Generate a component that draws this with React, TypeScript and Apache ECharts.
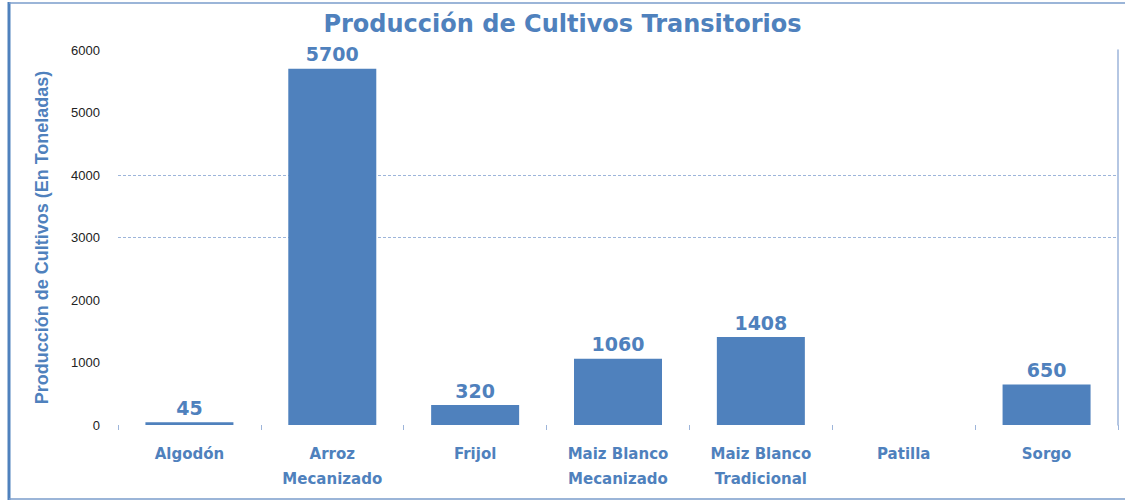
import React, { useEffect, useRef } from "react";
import * as echarts from "echarts";

const categories = [
  "Algodón",
  "Arroz\nMecanizado",
  "Frijol",
  "Maiz Blanco\nMecanizado",
  "Maiz Blanco\nTradicional",
  "Patilla",
  "Sorgo",
];
const production: (number | null)[] = [45, 5700, 320, 1060, 1408, null, 650];
const yMin = 0;
const yMax = 6000;
const yInterval = 1000;
const titleText = "Producción de Cultivos Transitorios";
const yAxisName = "Producción de Cultivos (En Toneladas)";

const BLUE = "#4F81BD";
const LIGHT = "#9DB5DA";

export default function App() {
  const ref = useRef<HTMLDivElement>(null);
  useEffect(() => {
    document.body.style.margin = "0";
    const chart = echarts.init(ref.current!, null, { renderer: "svg" });
    chart.setOption({
      animation: false,
      backgroundColor: "#ffffff",
      title: {
        text: titleText,
        left: "center",
        top: 7,
        textStyle: {
          color: BLUE,
          fontFamily: "DejaVu Sans",
          fontWeight: "bold",
          fontSize: 24,
        },
      },
      grid: { left: 118, right: 7, top: 50, bottom: 77 },
      xAxis: {
        type: "category",
        data: categories,
        axisLine: { show: false },
        axisTick: { show: true, length: 5, lineStyle: { color: LIGHT } },
        axisLabel: {
          interval: 0,
          margin: 16,
          color: BLUE,
          fontFamily: "DejaVu Sans",
          fontWeight: "bold",
          fontSize: 15,
          lineHeight: 25,
        },
      },
      yAxis: [
        {
          type: "value",
          min: yMin,
          max: yMax,
          interval: yInterval,
          name: yAxisName,
          nameLocation: "middle",
          nameGap: 67,
          nameTextStyle: {
            color: BLUE,
            fontFamily: "Liberation Sans",
            fontWeight: "bold",
            fontSize: 18,
          },
          axisLine: { show: false },
          axisTick: { show: false },
          axisLabel: {
            margin: 18,
            color: "#222",
            fontFamily: "Liberation Sans",
            fontSize: 13,
            formatter: (v: number) => String(v),
          },
          splitLine: {
            show: true,
            lineStyle: {
              type: [3, 2],
              width: 1,
              color: [
                "transparent",
                "transparent",
                "transparent",
                LIGHT,
                LIGHT,
                "transparent",
                "transparent",
              ],
            },
          },
        },
        {
          type: "value",
          position: "right",
          min: yMin,
          max: yMax,
          interval: yInterval,
          axisLine: { show: true, lineStyle: { color: LIGHT, width: 1.5 } },
          axisTick: { show: false },
          axisLabel: { show: false },
          splitLine: { show: false },
        },
      ],
      series: [
        {
          type: "bar",
          data: production,
          barWidth: 88,
          itemStyle: { color: BLUE },
          label: {
            show: true,
            position: "top",
            distance: 5,
            color: BLUE,
            fontFamily: "DejaVu Sans",
            fontWeight: "bold",
            fontSize: 19,
          },
        },
      ],
      graphic: [
        {
          type: "line",
          shape: { x1: 9, y1: 2, x2: 9, y2: 500 },
          style: { stroke: BLUE, lineWidth: 3 },
        },
        {
          type: "line",
          shape: { x1: 9, y1: 3, x2: 1125, y2: 3 },
          style: { stroke: "#7A9CCB", lineWidth: 1.5 },
        },
        {
          type: "line",
          shape: { x1: 9, y1: 499, x2: 1125, y2: 499 },
          style: { stroke: "#7A9CCB", lineWidth: 1.5 },
        },
      ],
    });
    return () => chart.dispose();
  }, []);
  return <div ref={ref} style={{ width: 1125, height: 502 }} />;
}
